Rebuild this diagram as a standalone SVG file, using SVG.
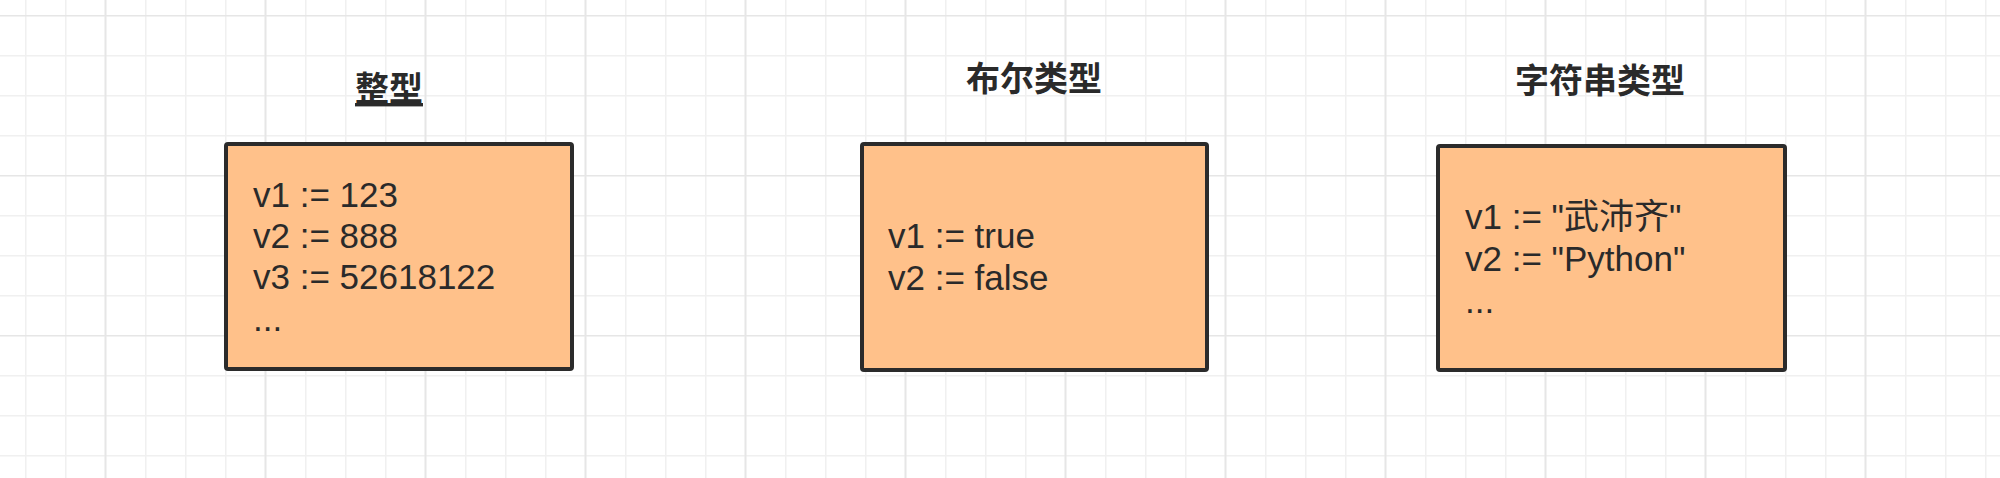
<svg xmlns="http://www.w3.org/2000/svg" width="2000" height="478" viewBox="0 0 2000 478">
<defs>
<pattern id="grid" patternUnits="userSpaceOnUse" x="25" y="15" width="160" height="160">
<rect x="0" y="0" width="1.5" height="160" fill="#f0f0f0"/>
<rect x="40" y="0" width="1.5" height="160" fill="#f0f0f0"/>
<rect x="120" y="0" width="1.5" height="160" fill="#f0f0f0"/>
<rect x="0" y="40" width="160" height="1.5" fill="#f0f0f0"/>
<rect x="0" y="80" width="160" height="1.5" fill="#f0f0f0"/>
<rect x="0" y="120" width="160" height="1.5" fill="#f0f0f0"/>
<rect x="79.5" y="0" width="2" height="160" fill="#e6e6e6"/>
<rect x="0" y="-0.5" width="160" height="2" fill="#e6e6e6"/>
</pattern>
</defs>
<style>
.box{fill:#ffc18a;stroke:#2b2b2b;stroke-width:4}
.t{font-family:"Liberation Sans","Noto Sans CJK SC",sans-serif;font-size:35px;fill:#2a2a2a}
.h{font-family:"Noto Sans CJK SC","Noto Sans",sans-serif;font-size:34px;font-weight:bold;fill:#2a2a2a;text-anchor:middle}
</style>
<rect width="2000" height="478" fill="#ffffff"/>
<rect width="2000" height="478" fill="url(#grid)"/>
<g id="connectors"></g>
<g id="title-int"><text class="h" x="389" y="101" text-decoration="underline">整型</text></g>
<g id="title-bool"><text class="h" x="1034" y="91">布尔类型</text></g>
<g id="title-str"><text class="h" x="1600" y="93">字符串类型</text></g>
<g id="node-int">
<rect class="box" x="226" y="144" width="346" height="225" rx="2"/>
<text class="t"><tspan x="253" y="207">v1 := 123</tspan><tspan x="253" y="248">v2 := 888</tspan><tspan x="253" y="289">v3 := 52618122</tspan><tspan x="253" y="331">...</tspan></text>
</g>
<g id="node-bool">
<rect class="box" x="862" y="144" width="345" height="226" rx="2"/>
<text class="t"><tspan x="888" y="248">v1 := true</tspan><tspan x="888" y="290">v2 := false</tspan></text>
</g>
<g id="node-str">
<rect class="box" x="1438" y="146" width="347" height="224" rx="2"/>
<text class="t"><tspan x="1465" y="229">v1 := "武沛齐"</tspan><tspan x="1465" y="271">v2 := "Python"</tspan><tspan x="1465" y="313">...</tspan></text>
</g>
</svg>
